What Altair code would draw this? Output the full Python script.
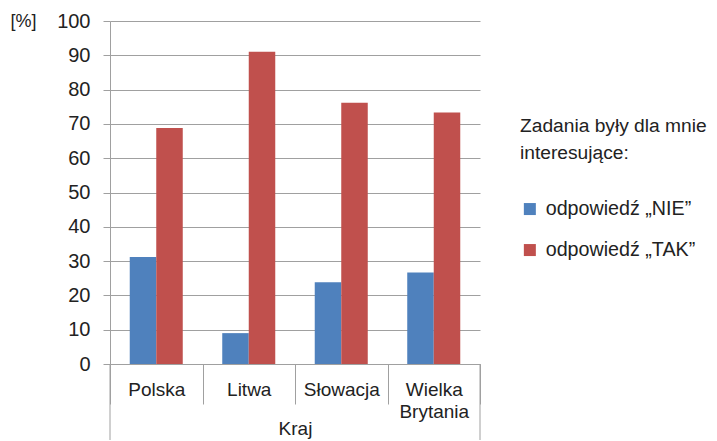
import altair as alt
import pandas as pd

countries = ["Polska", "Litwa", "Słowacja", "Wielka Brytania"]
series = ["odpowiedź „NIE”", "odpowiedź „TAK”"]
nie = [31.2, 9.0, 23.8, 26.7]
tak = [68.8, 91.0, 76.2, 73.3]
colors = ["#4F81BD", "#C0504D"]
y_ticks = list(range(0, 101, 10))
legend_title = ["Zadania były dla mnie", "interesujące:"]

rows = []
for c, n, t in zip(countries, nie, tak):
    rows.append({"Kraj": c, "seria": series[0], "wartosc": n})
    rows.append({"Kraj": c, "seria": series[1], "wartosc": t})
df = pd.DataFrame(rows)

FONT = "Liberation Sans"
TXT = "#222222"
GRAY = "#A0A0A0"
W, H = 370, 343

bars = alt.Chart(df).mark_bar().encode(
    x=alt.X(
        "Kraj:N",
        sort=countries,
        scale=alt.Scale(paddingInner=0, paddingOuter=0),
        axis=alt.Axis(
            title="Kraj",
            tickBand="extent",
            tickSize=40,
            tickColor=GRAY,
            domainColor=GRAY,
            labelPadding=-26,
            labelAngle=0,
            labelBaseline="line-top",
            labelFont=FONT,
            labelFontSize=19,
            labelColor=TXT,
            labelLineHeight=22,
            labelExpr="datum.value == 'Wielka Brytania' ? ['Wielka', 'Brytania'] : datum.label",
            titleFont=FONT,
            titleFontSize=19,
            titleFontWeight="normal",
            titleColor=TXT,
            titleY=64,
            titleBaseline="middle",
            labelLimit=0,
        ),
    ),
    xOffset=alt.XOffset(
        "seria:N", sort=series, scale=alt.Scale(paddingInner=0, paddingOuter=0.745)
    ),
    y=alt.Y(
        "wartosc:Q",
        scale=alt.Scale(domain=[0, 100], nice=False),
        axis=alt.Axis(
            values=y_ticks,
            title="[%]",
            titleAngle=0,
            titleX=-100,
            titleY=0,
            titleAlign="left",
            titleBaseline="middle",
            titleFont=FONT,
            titleFontSize=18,
            titleFontWeight="normal",
            titleColor=TXT,
            labelFont=FONT,
            labelFontSize=20,
            labelColor=TXT,
            labelPadding=13,
            tickSize=7,
            tickColor=GRAY,
            domainColor=GRAY,
            gridColor=GRAY,
        ),
    ),
    color=alt.Color(
        "seria:N",
        sort=series,
        scale=alt.Scale(domain=series, range=colors),
        legend=alt.Legend(
            title=legend_title,
            orient="none",
            legendX=410,
            legendY=96,
            titleFont=FONT,
            titleFontSize=19.2,
            titleFontWeight="normal",
            titleColor=TXT,
            titleLineHeight=27,
            titlePadding=36,
            titleLimit=0,
            labelFont=FONT,
            labelFontSize=19.7,
            labelColor=TXT,
            labelLimit=0,
            labelOffset=6,
            symbolType="square",
            symbolSize=144,
            symbolStrokeWidth=0,
            symbolOpacity=1,
            rowPadding=20,
        ),
    ),
)

edge = pd.DataFrame({"e": [0]})
left_rule = alt.Chart(edge).mark_rule(color=GRAY).encode(
    x=alt.value(0), y=alt.value(H), y2=alt.value(H + 76)
)
right_rule = alt.Chart(edge).mark_rule(color=GRAY).encode(
    x=alt.value(W), y=alt.value(H), y2=alt.value(H + 76)
)

chart = (
    alt.layer(bars, left_rule, right_rule)
    .properties(
        width=W,
        height=H,
        autosize=alt.AutoSizeParams(type="none"),
        padding={"left": 102, "top": 13, "right": 229, "bottom": 76},
    )
    .configure_view(stroke=None)
)

chart.save("out.html", embed_options={"renderer": "svg", "actions": False})
